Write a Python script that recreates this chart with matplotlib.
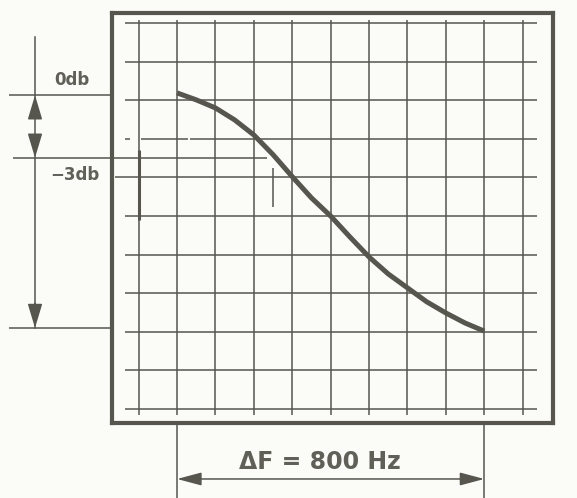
import matplotlib
matplotlib.use("Agg")
import matplotlib.pyplot as plt
import numpy as np

# ---- data (grid divisions) ----
curve_x = [1.0, 1.5, 2.0, 2.5, 3.0, 3.5, 4.0, 4.5, 5.0, 5.5, 6.0, 6.5, 7.0, 7.5, 8.0, 8.5, 9.0]
curve_y = [8.19, 8.01, 7.80, 7.49, 7.10, 6.59, 6.02, 5.47, 5.00, 4.46, 3.94, 3.50, 3.14, 2.78, 2.49, 2.23, 2.02]
grid_x = list(range(0, 11))
grid_y = list(range(0, 11))
level_labels = ["0db", "\u22123db"]
level_y = [8.13, 6.51, 2.10]          # 0 dB, -3 dB, bottom reference levels
span_x = [1, 9]                        # bandwidth markers
span_label = "\u0394F = 800 Hz"

INK = "#56564f"
BG = "#fbfbf8"
LW = 1.1

fig = plt.figure(figsize=(5.77, 4.98), dpi=100, facecolor=BG)
ax = fig.add_axes([112/577, 1-423/498, (553-112)/577, (423-13)/498])
ax.set_facecolor(BG)
ax.set_xlim(-0.695, 10.79)
ax.set_ylim(-0.36, 10.26)
ax.set_xticks([]); ax.set_yticks([])
for s in ax.spines.values():
    s.set_linewidth(3.0)
    s.set_color(INK)

# graticule
full_rows = [g for g in grid_y if g not in (6, 7)]
ax.hlines(full_rows, -0.36, 10.37, color=INK, lw=LW)
ax.hlines([6], -0.62, 10.37, color=INK, lw=LW)
ax.hlines([7, 7, 7], [-0.36, 0.06, 1.34], [-0.23, 1.28, 10.37], color=INK, lw=LW)
ax.vlines(grid_x, -0.15, 10.08, color=INK, lw=LW)
ax.vlines([grid_x[0]], 4.9, 6.71, color=INK, lw=2.2)

# response curve
ax.plot(curve_x, curve_y, color=INK, lw=3.6, solid_capstyle="butt", solid_joinstyle="round")

# left dimension lines
ax.hlines([level_y[0], level_y[2]], -3.38, -0.695, color=INK, lw=LW, clip_on=False)
ax.hlines([level_y[1]], -3.27, 3.34, color=INK, lw=LW, clip_on=False)
ax.vlines([3.50], 5.24, 6.25, color=INK, lw=LW)
xd = -2.70
ax.plot([xd, xd], [9.64, level_y[2]], color=INK, lw=LW, clip_on=False)
aprops = dict(arrowstyle="-|>,head_length=1.5,head_width=0.45", mutation_scale=10,
              color=INK, lw=LW, shrinkA=0, shrinkB=0)
ax.annotate("", xy=(xd, level_y[0]), xytext=(xd, 7.61), arrowprops=aprops, annotation_clip=False)
ax.annotate("", xy=(xd, level_y[1]), xytext=(xd, 7.06), arrowprops=aprops, annotation_clip=False)
ax.annotate("", xy=(xd, level_y[2]), xytext=(xd, 2.75), arrowprops=aprops, annotation_clip=False)

tkw = dict(color="#606059", family="DejaVu Sans", fontweight="bold", ha="center", va="center")
ax.text(-1.74, 8.53, level_labels[0], fontsize=12, clip_on=False, **tkw)
ax.text(-1.66, 6.07, level_labels[1], fontsize=12, clip_on=False, **tkw)

# bottom span
ax.vlines(span_x, -2.4, -0.36, color=INK, lw=LW, clip_on=False)
ax.annotate("", xy=(span_x[0], -1.81), xytext=(span_x[1], -1.81),
            arrowprops=dict(arrowstyle="<|-|>,head_length=1.5,head_width=0.4", mutation_scale=10,
                            color=INK, lw=LW, shrinkA=0, shrinkB=0), annotation_clip=False)
ax.text(4.73, -1.37, span_label, fontsize=17, clip_on=False, **tkw)

fig.savefig("out.png", dpi=100, facecolor=BG)
